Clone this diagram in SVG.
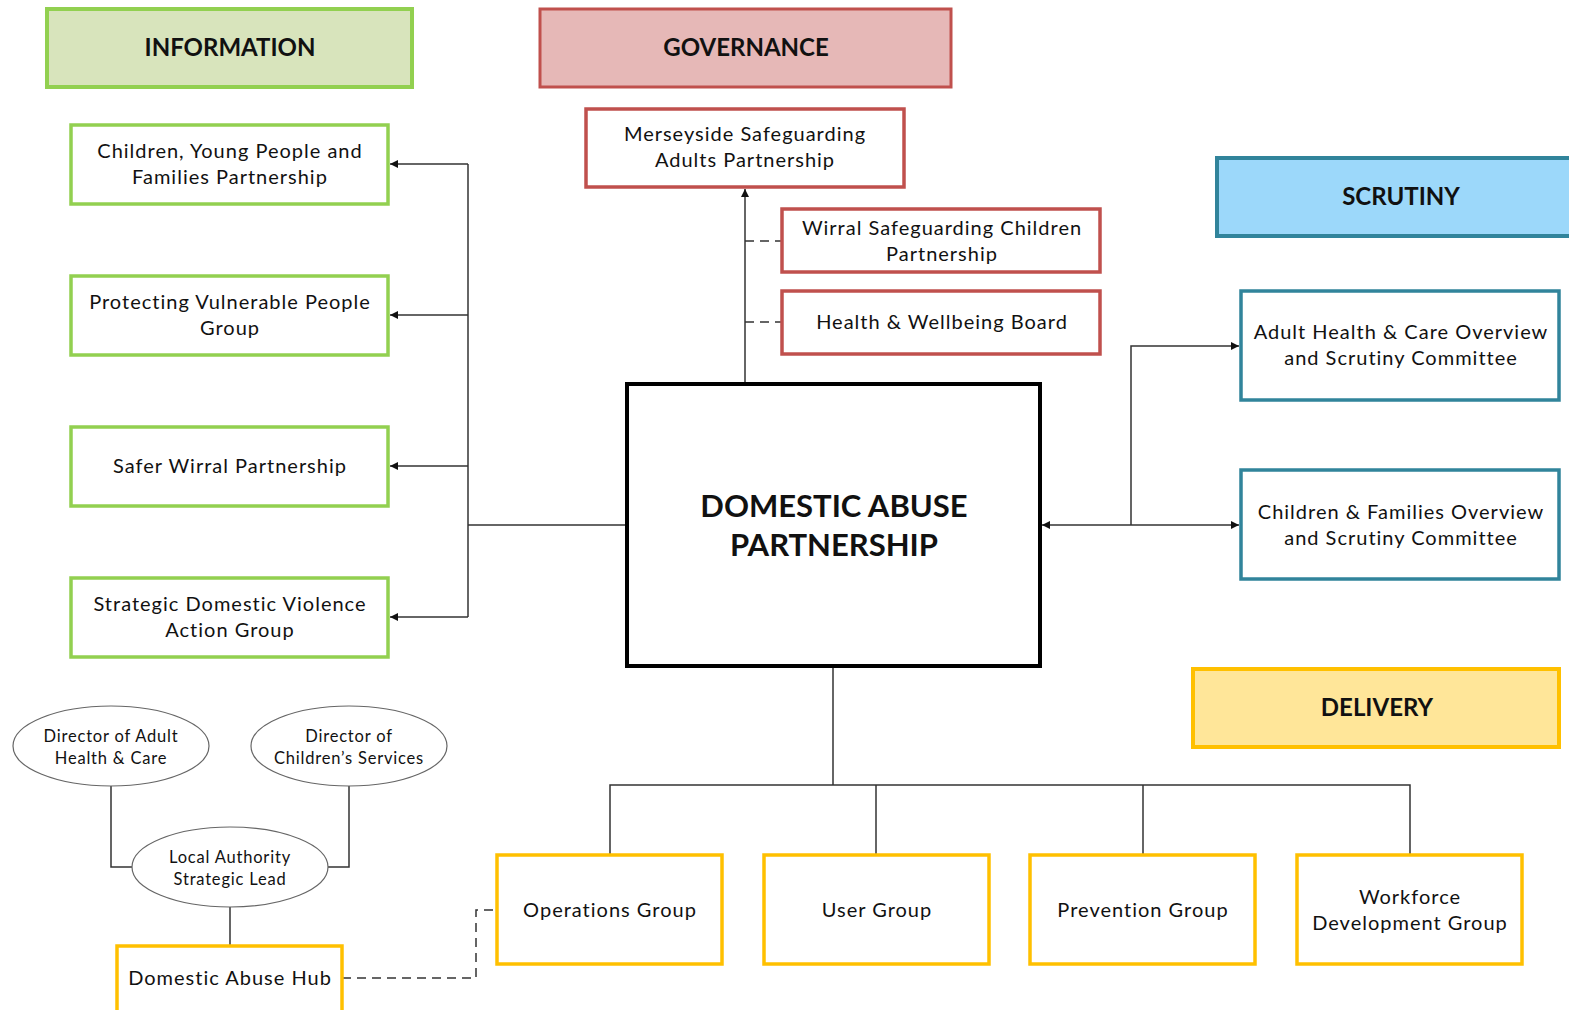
<svg xmlns="http://www.w3.org/2000/svg" width="1569" height="1010" viewBox="0 0 1569 1010">
<style>
text{font-family:Lato,"Open Sans","Liberation Sans",sans-serif;fill:#111;text-anchor:middle}
.h{font-weight:bold;font-size:24px}
.t{font-size:20px;letter-spacing:1px}
.e{font-size:16.5px;letter-spacing:0.8px}
.big{font-weight:bold;font-size:31px}
.gh{fill:#D8E4BC;stroke:#92D050;stroke-width:4}
.g{fill:#fff;stroke:#92D050;stroke-width:3.5}
.rh{fill:#E6B8B7;stroke:#C0504D;stroke-width:3}
.r{fill:#fff;stroke:#C0504D;stroke-width:3.5}
.bh{fill:#9CD8FA;stroke:#31849B;stroke-width:4}
.b{fill:#fff;stroke:#31849B;stroke-width:3.5}
.yh{fill:#FFE699;stroke:#FFC000;stroke-width:4}
.y{fill:#fff;stroke:#FFC000;stroke-width:3.5}
.el{fill:#fff;stroke:#666;stroke-width:1.2}
.c{fill:none;stroke:#333;stroke-width:1.5}
.d{fill:none;stroke:#333;stroke-width:1.5;stroke-dasharray:9 6}
</style>
<defs>
<marker id="a" viewBox="0 0 10 10" refX="10" refY="5" markerWidth="8" markerHeight="8" orient="auto-start-reverse" markerUnits="userSpaceOnUse">
<path d="M0,0 L10,5 L0,10 z" fill="#111"/>
</marker>
</defs>
<rect width="1569" height="1010" fill="#fff"/>

<g id="connectors">
<path class="c" d="M745,384 V189" marker-end="url(#a)"/>
<path class="d" d="M745,241 H782"/>
<path class="d" d="M745,322 H782"/>
<path class="c" d="M627,525 H468"/>
<path class="c" d="M468,164 V617"/>
<path class="c" d="M468,164 H390" marker-end="url(#a)"/>
<path class="c" d="M468,315 H390" marker-end="url(#a)"/>
<path class="c" d="M468,466 H390" marker-end="url(#a)"/>
<path class="c" d="M468,617 H390" marker-end="url(#a)"/>
<path class="c" d="M1042,525 H1239" marker-start="url(#a)" marker-end="url(#a)"/>
<path class="c" d="M1131,525 V346 H1239" marker-end="url(#a)"/>
<path class="c" d="M833,666 V785"/>
<path class="c" d="M610,855 V785 H1410 V855"/>
<path class="c" d="M876,785 V855"/>
<path class="c" d="M1143,785 V855"/>
<path class="c" d="M111,786 V867 H132"/>
<path class="c" d="M349,786 V867 H328"/>
<path class="c" d="M230,907 V946"/>
<path class="d" d="M342,978 H476 V910 H497"/>
</g>

<g id="information"><rect class="gh" x="47" y="9" width="365" height="78"/><text class="h" x="230" y="56">INFORMATION</text></g>
<g id="governance"><rect class="rh" x="540" y="9" width="411" height="78"/><text class="h" x="746" y="56">GOVERNANCE</text></g>
<g id="scrutiny"><rect class="bh" x="1217" y="158" width="360" height="78"/><text class="h" x="1401" y="205">SCRUTINY</text></g>
<g id="delivery"><rect class="yh" x="1193" y="669" width="366" height="78"/><text class="h" x="1377" y="716">DELIVERY</text></g>

<g id="cypfp"><rect class="g" x="71" y="125" width="317" height="79"/><text class="t" x="230" y="158">Children, Young People and</text><text class="t" x="230" y="184">Families Partnership</text></g>
<g id="pvpg"><rect class="g" x="71" y="276" width="317" height="79"/><text class="t" x="230" y="309">Protecting Vulnerable People</text><text class="t" x="230" y="335">Group</text></g>
<g id="swp"><rect class="g" x="71" y="427" width="317" height="79"/><text class="t" x="230" y="473">Safer Wirral Partnership</text></g>
<g id="sdvag"><rect class="g" x="71" y="578" width="317" height="79"/><text class="t" x="230" y="611">Strategic Domestic Violence</text><text class="t" x="230" y="637">Action Group</text></g>

<g id="msap"><rect class="r" x="586" y="109" width="318" height="78"/><text class="t" x="745" y="141">Merseyside Safeguarding</text><text class="t" x="745" y="167">Adults Partnership</text></g>
<g id="wscp"><rect class="r" x="782" y="209" width="318" height="63"/><text class="t" x="942" y="235">Wirral Safeguarding Children</text><text class="t" x="942" y="261">Partnership</text></g>
<g id="hwb"><rect class="r" x="782" y="291" width="318" height="63"/><text class="t" x="942" y="329">Health &amp; Wellbeing Board</text></g>

<g id="dap"><rect x="627" y="384" width="413" height="282" fill="#fff" stroke="#000" stroke-width="4"/><text class="big" x="834" y="517">DOMESTIC ABUSE</text><text class="big" x="834" y="556">PARTNERSHIP</text></g>

<g id="ahcosc"><rect class="b" x="1241" y="291" width="318" height="109"/><text class="t" x="1401" y="339">Adult Health &amp; Care Overview</text><text class="t" x="1401" y="365">and Scrutiny Committee</text></g>
<g id="cfosc"><rect class="b" x="1241" y="470" width="318" height="109"/><text class="t" x="1401" y="519">Children &amp; Families Overview</text><text class="t" x="1401" y="545">and Scrutiny Committee</text></g>

<g id="ops"><rect class="y" x="497" y="855" width="225" height="109"/><text class="t" x="610" y="917">Operations Group</text></g>
<g id="user"><rect class="y" x="764" y="855" width="225" height="109"/><text class="t" x="877" y="917">User Group</text></g>
<g id="prev"><rect class="y" x="1030" y="855" width="225" height="109"/><text class="t" x="1143" y="917">Prevention Group</text></g>
<g id="wdg"><rect class="y" x="1297" y="855" width="225" height="109"/><text class="t" x="1410" y="904">Workforce</text><text class="t" x="1410" y="930">Development Group</text></g>

<g id="dahc"><ellipse class="el" cx="111" cy="746" rx="98" ry="40"/><text class="e" x="111" y="742">Director of Adult</text><text class="e" x="111" y="764">Health &amp; Care</text></g>
<g id="dcs"><ellipse class="el" cx="349" cy="746" rx="98" ry="40"/><text class="e" x="349" y="742">Director of</text><text class="e" x="349" y="764">Children’s Services</text></g>
<g id="lasl"><ellipse class="el" cx="230" cy="867" rx="98" ry="40"/><text class="e" x="230" y="863">Local Authority</text><text class="e" x="230" y="885">Strategic Lead</text></g>
<g id="hub"><rect class="y" x="117" y="946" width="225" height="70"/><text class="t" x="230" y="985">Domestic Abuse Hub</text></g>
</svg>
